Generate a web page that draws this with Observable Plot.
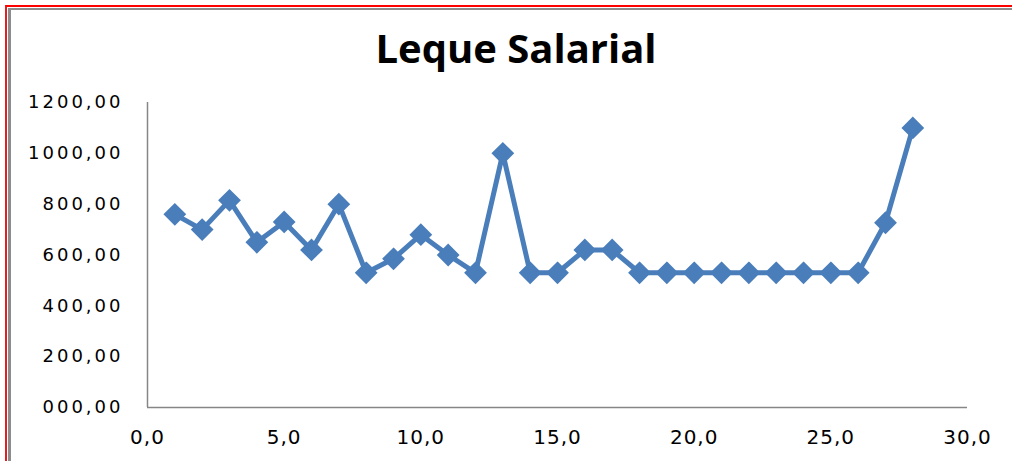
<!DOCTYPE html>
<html>
<head>
<meta charset="utf-8">
<script src="https://cdn.jsdelivr.net/npm/d3@7"></script>
<script src="https://cdn.jsdelivr.net/npm/@observablehq/plot@0.6"></script>
<style>
  html, body { margin: 0; padding: 0; background: #fff; }
  #wrap { position: relative; width: 1012px; height: 461px; overflow: hidden; background: #fff; }
  #red { position: absolute; left: 5px; top: 5px; right: 0; bottom: 0; border-top: 2px solid #ff0000; border-left: 2px solid #e02020; }
  #gray { position: absolute; left: 8px; top: 8px; right: 0; bottom: 0; border-top: 2px solid #8c8c8c; border-left: 3px solid #8c8c8c; }
  #title { position: absolute; left: 0; width: 1032px; top: 28px; line-height: 40px; text-align: center; font-family: "Open Sans", sans-serif; font-weight: bold; font-size: 40px; color: #000; }
  #chart { position: absolute; left: 0; top: 80px; }
  .ylab text { font-family: "DejaVu Sans", sans-serif !important; letter-spacing: 3px; }
  .xlab text { font-family: "DejaVu Sans", sans-serif !important; letter-spacing: 1px; }
</style>
</head>
<body>
<div id="wrap">
  <div id="red"></div>
  <div id="gray"></div>
  <div id="title">Leque Salarial</div>
  <div id="chart"></div>
</div>
<script>
const xValues = [1,2,3,4,5,6,7,8,9,10,11,12,13,14,15,16,17,18,19,20,21,22,23,24,25,26,27,28];
const salaries = [760,700,815,650,730,620,800,530,585,680,600,530,1000,530,530,620,620,530,530,530,530,530,530,530,530,530,727,1100];
const xTicks = [0,5,10,15,20,25,30];
const yTicks = [0,200,400,600,800,1000,1200];

const data = xValues.map((x, i) => ({x, y: salaries[i]}));
const fmtY = d => d3.format("03d")(d) + ",00";
const fmtX = d => d3.format(".1f")(d).replace(".", ",");
const blue = "#4a7ebb";

const chart = Plot.plot({
  width: 1012,
  height: 381,
  marginTop: 22,
  marginBottom: 54,
  marginLeft: 147,
  marginRight: 45,
  x: {domain: [0, 30]},
  y: {domain: [0, 1200]},
  marks: [
    Plot.ruleX([0], {stroke: "#868686", strokeWidth: 1.5}),
    Plot.ruleY([0], {stroke: "#868686", strokeWidth: 1.5}),
    Plot.axisY({ticks: yTicks, tickFormat: fmtY, tickSize: 0, tickPadding: 24, label: null,
      fontFamily: "DejaVu Sans", fontSize: 18, fill: "#000", className: "ylab"}),
    Plot.axisX({ticks: xTicks, tickFormat: fmtX, tickSize: 0, tickPadding: 22, label: null,
      fontFamily: "DejaVu Sans", fontSize: 20, fill: "#000", className: "xlab"}),
    Plot.line(data, {x: "x", y: "y", stroke: blue, strokeWidth: 5}),
    Plot.dot(data, {x: "x", y: "y", symbol: "diamond2", r: 9, fill: blue, stroke: blue, strokeWidth: 2})
  ]
});
document.getElementById("chart").appendChild(chart);
</script>
</body>
</html>
